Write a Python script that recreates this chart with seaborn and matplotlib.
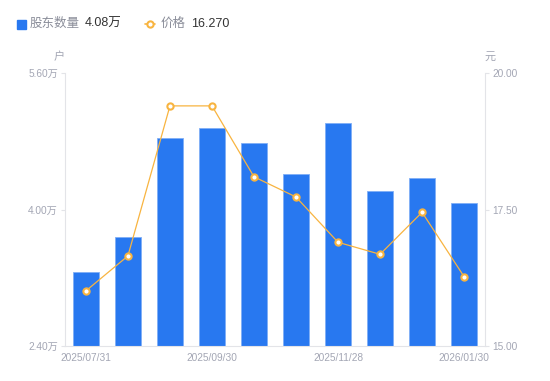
import numpy as np
import pandas as pd
import matplotlib.pyplot as plt
import seaborn as sns

dates = ['2025/07/31', '2025/08/20', '2025/08/29', '2025/09/30', '2025/10/20',
         '2025/10/31', '2025/11/28', '2025/12/31', '2026/01/20', '2026/01/30']
holders = [3.27, 3.68, 4.84, 4.96, 4.78, 4.42, 5.01, 4.22, 4.37, 4.08]  # 万户
price = [16.01, 16.65, 19.40, 19.40, 18.10, 17.73, 16.90, 16.68, 17.45, 16.27]  # 元
shown_dates = ['2025/07/31', '2025/09/30', '2025/11/28', '2026/01/30']

df = pd.DataFrame({'date': dates, 'holders': holders, 'price': price})

sns.set_style('white')
plt.rcParams['font.family'] = ['Liberation Sans', 'Noto Sans CJK SC', 'DejaVu Sans']

blue = '#2878F0'
orange = '#F8B440'
axis_c = '#E3E4E8'
tick_c = '#A3A6B4'

fig = plt.figure(figsize=(5.5, 3.81), dpi=100)
ax = fig.add_axes([0.118, 0.092, 0.764, 0.716])

sns.barplot(data=df, x='date', y='holders', color=blue, width=0.6,
            edgecolor='#7FAEF6', linewidth=0.6, saturation=1, ax=ax)
ax.set_ylim(2.4, 5.6)
ax.set_xlim(-0.5, len(dates) - 0.5)
ax.set_yticks([2.4, 4.0, 5.6])
ax.set_yticklabels([f'{v:.2f}万' for v in [2.4, 4.0, 5.6]])

ax2 = ax.twinx()
sns.pointplot(data=df, x='date', y='price', color=orange, ax=ax2,
              markers='o', markersize=4.5, markerfacecolor='white',
              markeredgecolor=orange, markeredgewidth=1.5, linewidth=0.9)
ax2.set_ylim(15, 20)
ax2.set_yticks([15, 17.5, 20])
ax2.set_yticklabels([f'{v:.2f}' for v in [15, 17.5, 20]])
ax2.set_xlim(-0.5, len(dates) - 0.5)

ax.set_xticks([dates.index(d) for d in shown_dates])
ax.set_xticklabels(shown_dates)

for a in (ax, ax2):
    a.set_xlabel('')
    a.set_ylabel('')
    for s in a.spines.values():
        s.set_visible(False)
    a.tick_params(labelsize=7.3, colors=tick_c, length=3, width=0.8, pad=2)
ax.spines['left'].set_visible(True)
ax.spines['left'].set_color(axis_c)
ax.spines['bottom'].set_visible(True)
ax.spines['bottom'].set_color(axis_c)
ax2.spines['right'].set_visible(True)
ax2.spines['right'].set_color(axis_c)
ax.tick_params(axis='x', length=0, pad=5)
ax.tick_params(axis='y', color=axis_c)
ax2.tick_params(axis='y', color=axis_c)

fig.text(59 / 550, 1 - 57 / 381, '户', fontsize=8, color=tick_c, ha='center', va='center')
fig.text(490 / 550, 1 - 57 / 381, '元', fontsize=8, color=tick_c, ha='center', va='center')

# legend header
fig.patches.append(plt.Rectangle((17 / 550, 1 - 29 / 381), 9 / 550, 9 / 381,
                                 transform=fig.transFigure, color=blue, figure=fig))
fig.text(30 / 550, 1 - 24 / 381, '股东数量', fontsize=9, color='#8A8D99', va='center')
fig.text(85 / 550, 1 - 24 / 381, '4.08万', fontsize=9, color='#333333', va='center')
fig.lines.append(plt.Line2D([145 / 550, 155 / 550], [1 - 24 / 381] * 2, transform=fig.transFigure,
                            color=orange, linewidth=1.2, figure=fig))
fig.lines.append(plt.Line2D([150 / 550], [1 - 24 / 381], transform=fig.transFigure, color=orange,
                            marker='o', markersize=4.5, markerfacecolor='white',
                            markeredgewidth=1.5, figure=fig))
fig.text(161 / 550, 1 - 24 / 381, '价格', fontsize=9, color='#8A8D99', va='center')
fig.text(191 / 550, 1 - 24 / 381, '16.270', fontsize=9, color='#333333', va='center')

plt.savefig('out.png', dpi=100)
